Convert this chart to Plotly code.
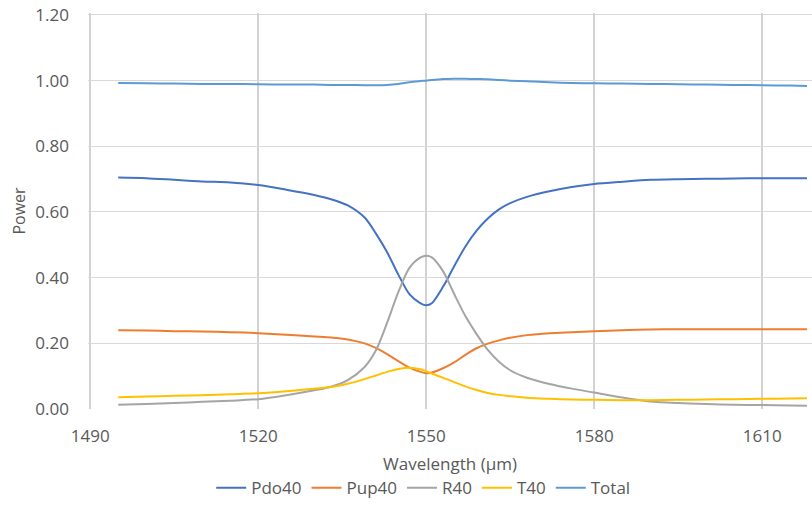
import plotly.graph_objects as go

wavelength = [1495, 1500, 1505, 1510, 1515, 1520, 1525, 1530, 1533, 1536, 1539, 1541, 1543,
              1545, 1547, 1549, 1550, 1551, 1553, 1555, 1557, 1559, 1561, 1563, 1565, 1568,
              1572, 1576, 1580, 1585, 1590, 1595, 1600, 1605, 1610, 1615, 1618]

pdo40 = [0.705, 0.703, 0.698, 0.693, 0.690, 0.682, 0.668, 0.652, 0.639, 0.620, 0.583, 0.535,
         0.478, 0.410, 0.350, 0.322, 0.316, 0.322, 0.372, 0.435, 0.495, 0.543, 0.580, 0.608,
         0.627, 0.646, 0.663, 0.676, 0.685, 0.692, 0.698, 0.700, 0.701, 0.702, 0.703, 0.703, 0.703]

pup40 = [0.240, 0.239, 0.237, 0.236, 0.234, 0.231, 0.226, 0.221, 0.218, 0.212, 0.200, 0.186,
         0.167, 0.146, 0.126, 0.113, 0.109, 0.111, 0.124, 0.142, 0.165, 0.185, 0.199, 0.209,
         0.217, 0.225, 0.231, 0.234, 0.237, 0.240, 0.242, 0.243, 0.243, 0.243, 0.243, 0.243, 0.243]

r40 = [0.013, 0.015, 0.018, 0.022, 0.025, 0.030, 0.042, 0.057, 0.068, 0.088, 0.128, 0.178,
       0.262, 0.355, 0.430, 0.462, 0.467, 0.462, 0.420, 0.350, 0.283, 0.228, 0.180, 0.144,
       0.118, 0.095, 0.076, 0.062, 0.050, 0.035, 0.023, 0.018, 0.015, 0.013, 0.012, 0.011, 0.010]

t40 = [0.036, 0.038, 0.040, 0.042, 0.045, 0.048, 0.054, 0.062, 0.067, 0.077, 0.091, 0.102,
       0.113, 0.122, 0.126, 0.121, 0.115, 0.108, 0.095, 0.082, 0.069, 0.058, 0.049, 0.043,
       0.039, 0.034, 0.031, 0.029, 0.028, 0.027, 0.027, 0.028, 0.029, 0.030, 0.031, 0.032, 0.033]

total = [0.993, 0.992, 0.991, 0.990, 0.990, 0.989, 0.988, 0.988, 0.987, 0.987, 0.986, 0.986,
         0.987, 0.990, 0.995, 0.999, 1.000, 1.002, 1.005, 1.006, 1.006, 1.005, 1.004, 1.002,
         1.000, 0.998, 0.995, 0.993, 0.992, 0.991, 0.990, 0.989, 0.988, 0.987, 0.986, 0.985, 0.984]

series = [
    ("Pdo40", pdo40, "#4472C4"),
    ("Pup40", pup40, "#ED7D31"),
    ("R40", r40, "#A5A5A5"),
    ("T40", t40, "#FFC000"),
    ("Total", total, "#5B9BD5"),
]

x_ticks = [1490, 1520, 1550, 1580, 1610]
y_ticks = [0, 0.2, 0.4, 0.6, 0.8, 1.0, 1.2]
y_tick_labels = ["0.00", "0.20", "0.40", "0.60", "0.80", "1.00", "1.20"]

fig = go.Figure()
for name, vals, color in series:
    fig.add_trace(go.Scatter(x=wavelength, y=vals, name=name, mode="lines",
                             line=dict(color=color, width=2, shape="spline", smoothing=0.8)))

font_family = "Open Sans, Liberation Sans, sans-serif"
fig.update_layout(
    width=812, height=523,
    margin=dict(l=88, r=0, t=13, b=114, autoexpand=False),
    paper_bgcolor="white", plot_bgcolor="white",
    font=dict(family=font_family, size=17, color="#595959"),
    showlegend=True,
    legend=dict(orientation="h", x=0.463, xanchor="center", y=-0.2, yanchor="middle",
                font=dict(size=17, color="#595959"), itemwidth=30, tracegroupgap=0),
    xaxis=dict(range=[1489.6, 1618.9], tickvals=x_ticks, ticktext=[str(v) for v in x_ticks],
               showgrid=True, gridcolor="#D2D2D2", gridwidth=1.5, zeroline=False,
               showline=False, ticks="", ticklabelstandoff=15, automargin=False,
               ticklabeloverflow="allow", tickfont=dict(size=17),
               title=dict(text="Wavelength (µm)", standoff=12, font=dict(size=17, color="#595959"))),
    yaxis=dict(range=[0, 1.206], tickvals=y_ticks, ticktext=y_tick_labels,
               showgrid=True, gridcolor="#D9D9D9", gridwidth=1.2, zeroline=False,
               showline=False, ticks="", ticklabelstandoff=18, automargin=False,
               ticklabeloverflow="allow", tickfont=dict(size=17),
               title=dict(text="Power", standoff=5, font=dict(size=16, color="#595959"))),
)

fig.write_html("out.html", config={"displayModeBar": False},
               post_script="document.body.style.margin='0';")
